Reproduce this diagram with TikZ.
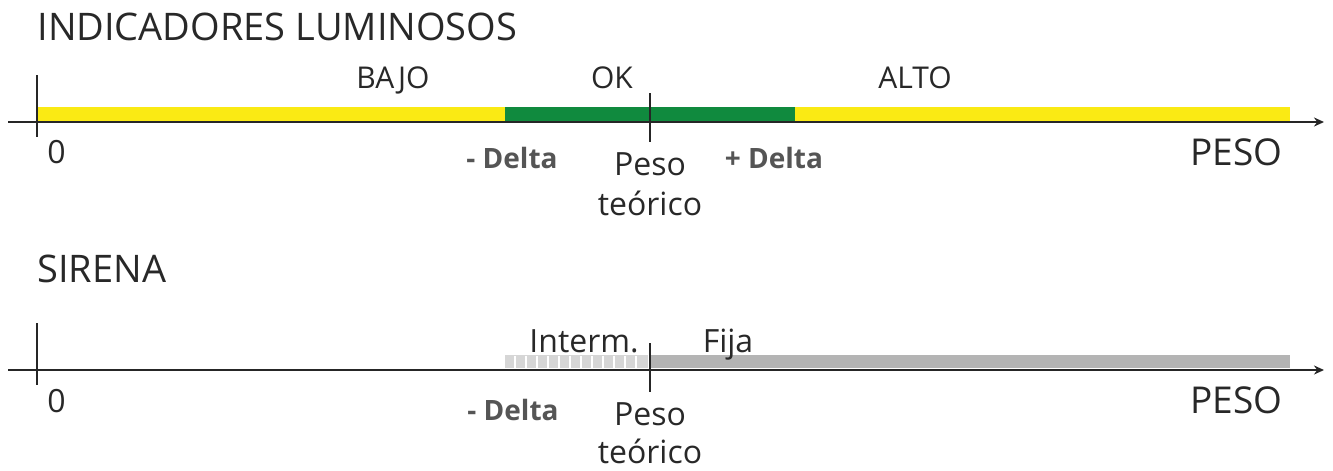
\documentclass[tikz,border=0pt]{standalone}
\usepackage{fontspec}
\setmainfont{Open Sans}
\usetikzlibrary{arrows.meta}

\definecolor{barYellow}{RGB}{250,234,20}
\definecolor{barGreen}{RGB}{16,138,62}
\definecolor{barGray}{RGB}{180,180,180}
\definecolor{txtDark}{RGB}{40,40,40}
\definecolor{txtGray}{RGB}{85,85,85}

\begin{document}
\begin{tikzpicture}[
    x=0.5pt, y=-0.5pt,
    axisline/.style={line width=1.4pt, draw=black!85, -{Stealth[length=5pt, width=4.5pt]}},
    tickline/.style={line width=1.4pt, draw=black!85},
    lbl/.style={anchor=base, inner sep=0pt, text=txtDark, font=\fontsize{16}{16}\selectfont},
    zone/.style={lbl, font=\fontsize{15}{15}\selectfont},
    delta/.style={lbl, text=txtGray, font=\fontsize{14}{14}\selectfont\bfseries},
    heading/.style={anchor=base west, inner sep=0pt, text=txtDark, font=\fontsize{19}{19}\selectfont},
    peso/.style={anchor=base east, inner sep=0pt, text=txtDark, font=\fontsize{18.5}{18.5}\selectfont}
]
\useasboundingbox (0,0) rectangle (1333,471);

% indicadores luminosos
\node[heading] (lumTitle) at (37,40) {INDICADORES LUMINOSOS};
\fill[barYellow] (37,107) rectangle (505,122);
\fill[barGreen] (505,107) rectangle (795,122);
\fill[barYellow] (795,107) rectangle (1290,122);
\coordinate (lumStart) at (8,122);
\coordinate (lumEnd) at (1324,122);
\draw[axisline] (lumStart) -- (lumEnd);
\draw[tickline] (37,75) -- (37,137);
\draw[tickline] (650,93) -- (650,142);
\node[zone] (bajo) at (393,88) {BAJO};
\node[zone] (ok) at (612,88) {OK};
\node[zone] (alto) at (915,88) {ALTO};
\node[lbl, anchor=base west] (lumZero) at (47,163) {0};
\node[delta] (lumMinus) at (512,168) {- Delta};
\node[lbl] (lumPeso) at (650,175) {Peso};
\node[lbl] (lumTeorico) at (650,215) {teórico};
\node[delta] (lumPlus) at (774,168) {+ Delta};
\node[peso] (lumAxis) at (1283,165) {PESO};

% sirena
\node[heading] (sirTitle) at (37,282) {SIRENA};
\fill[gray!32] (505,355) rectangle (648,368);
\foreach \x in {515,526,...,646}
    \draw[white, line width=0.9pt] (\x,356) -- (\x,368);
\fill[barGray] (650,355) rectangle (1290,368);
\coordinate (sirStart) at (8,370);
\coordinate (sirEnd) at (1324,370);
\draw[axisline] (sirStart) -- (sirEnd);
\draw[tickline] (37,323) -- (37,385);
\draw[tickline] (650,343) -- (650,392);
\node[lbl] (interm) at (584,352) {Interm.};
\node[lbl] (fija) at (728,352) {Fija};
\node[lbl, anchor=base west] (sirZero) at (47,412) {0};
\node[delta] (sirMinus) at (513,420) {- Delta};
\node[lbl] (sirPeso) at (650,425) {Peso};
\node[lbl] (sirTeorico) at (650,463) {teórico};
\node[peso] (sirAxis) at (1283,413) {PESO};
\end{tikzpicture}
\end{document}
